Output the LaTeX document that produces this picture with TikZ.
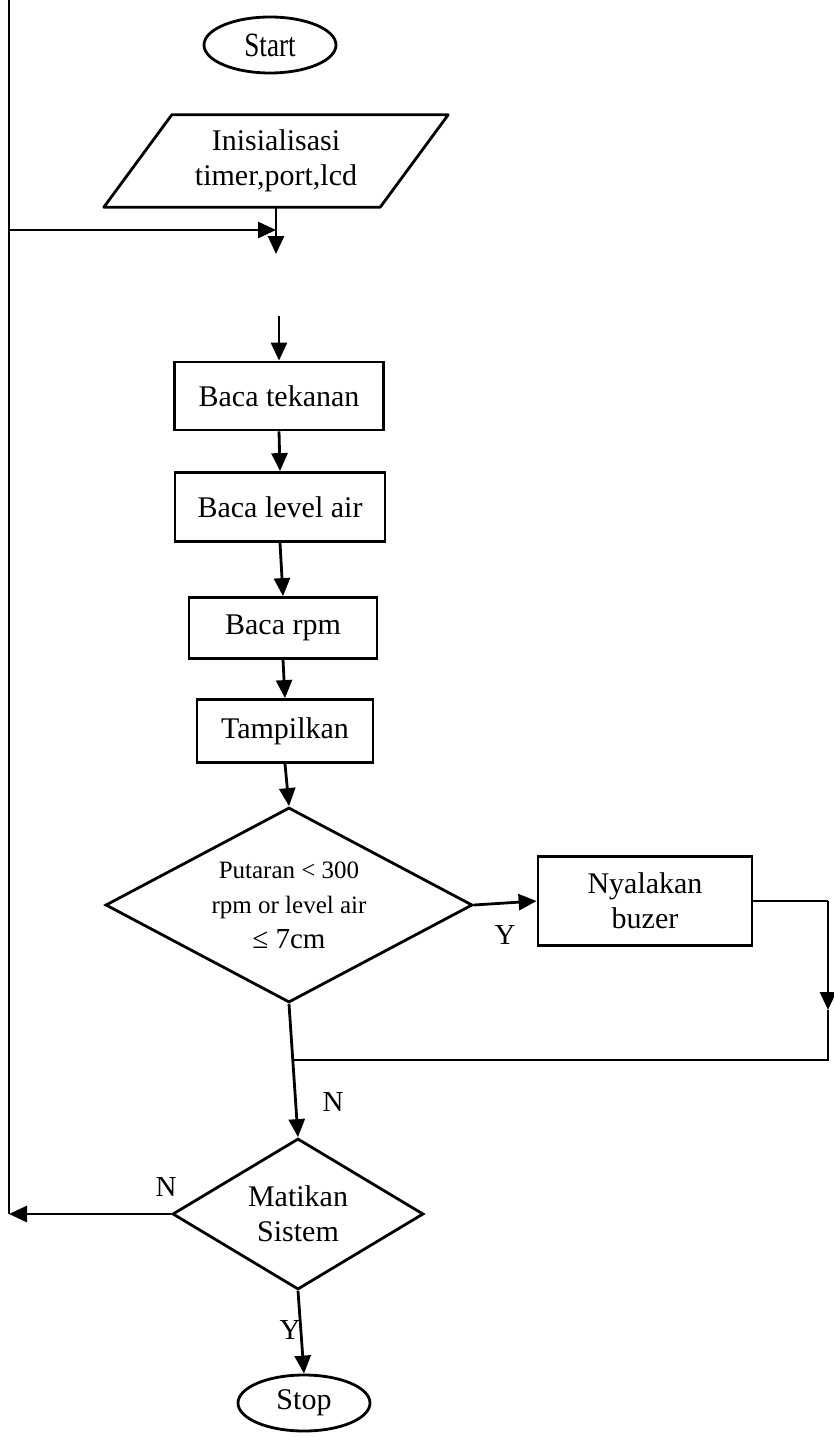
\documentclass[tikz,border=0pt]{standalone}
\usepackage{fontspec}
\setmainfont{Liberation Serif}
\newfontfamily\condfont[FakeStretch=0.8]{Liberation Serif}
\usetikzlibrary{shapes.geometric,arrows.meta,calc}
\begin{document}
\begin{tikzpicture}[x=1pt,y=-1pt,
  every node/.style={font=\fontsize{30}{35}\selectfont, inner sep=0pt},
  line/.style={line width=2.8pt},
  arr/.style={line width=2.8pt,-{Triangle[length=18pt,width=16pt]}},
  procbox/.style={draw,line width=2.8pt,rectangle,align=center},
  term/.style={draw,line width=2.8pt,ellipse,minimum width=132pt,minimum height=56pt},
  decision/.style={draw,line width=2.8pt,diamond,align=center},
  lab/.style={font=\fontsize{29}{30}\selectfont}]
\useasboundingbox (0,0) rectangle (833,1442);

% nodes
\node[term] (start) at (270,45) {\condfont\fontsize{34}{36}\selectfont Start};
\node[align=center,minimum width=276pt,minimum height=92pt] (init) at (276,161) {Inisialisasi\\timer,port,lcd};
\draw[line,line join=round] ($(init.north west)+(34,0)$) -- ($(init.north east)+(34,0)$)
   -- ($(init.south east)+(-34,0)$) -- ($(init.south west)+(-34,0)$) -- cycle;
\node[procbox,minimum width=209pt,minimum height=68pt] (tek) at (279,396) {Baca tekanan};
\node[procbox,minimum width=210pt,minimum height=69pt] (lev) at (280,507) {Baca level air};
\node[procbox,minimum width=188pt,minimum height=61pt] (rpm) at (283,628) {Baca rpm};
\node[procbox,minimum width=176pt,minimum height=63pt] (tam) at (285,731) {Tampilkan};
\node[decision,aspect=1.88,minimum width=367pt,minimum height=195pt] (d1) at (289,905)
  {\fontsize{25}{30}\selectfont Putaran < 300\\\fontsize{25}{30}\selectfont rpm or level air\\\fontsize{29}{32}\selectfont ≤ 7cm};
\node[procbox,minimum width=214pt,minimum height=89pt] (buz) at (645,901) {Nyalakan\\buzer};
\node[decision,aspect=1.66,minimum width=251pt,minimum height=151pt] (d2) at (298,1214) {Matikan\\Sistem};
\node[term] (stop) at (304,1403) {Stop};

% helper coordinates
\coordinate (ltop) at (9,0);
\coordinate (lmid) at (9,230);
\coordinate (j1) at (276,230);
\coordinate (a1) at (276,254);
\coordinate (a2) at (279,316);
\coordinate (rc1) at (828,901);
\coordinate (rc2) at (828,1010);
\coordinate (rc3) at (828,1060);
\coordinate (jn) at ($(d1.south)!0.42!(d2.north)$);

% connectors
\draw[arr] (init.south) -- (a1);
\draw[arr] (lmid) -- (j1);
\draw[arr] (a2) -- (tek.north);
\draw[arr] (tek.south) -- (lev.north);
\draw[arr] (lev.south) -- (rpm.north);
\draw[arr] (rpm.south) -- (tam.north);
\draw[arr] (tam.south) -- (d1.north);
\draw[arr] (d1.east) -- (buz.west);
\draw[line] (buz.east) -- (rc1);
\draw[arr] (rc1) -- (rc2);
\draw[line] (rc2) -- (rc3) -- (rc3 -| jn);
\draw[line] (d1.south) -- (jn);
\draw[arr] (jn) -- (d2.north);
\draw[arr] (d2.west) -- (d2.west -| ltop);
\draw[line] (ltop) -- (d2.west -| ltop);
\draw[arr] (d2.south) -- (stop.north);

% labels
\node[lab] (ly1) at (505,935) {Y};
\node[lab] (ln1) at (333,1102) {N};
\node[lab] (ln2) at (166,1187) {N};
\node[lab] (ly2) at (290,1330) {Y};
\end{tikzpicture}
\end{document}
